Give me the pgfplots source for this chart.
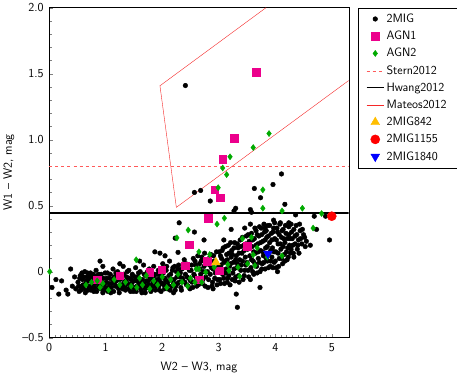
\documentclass[border=0pt]{standalone}
\usepackage{pgfplots}
\pgfplotsset{compat=1.18}
\definecolor{agngreen}{RGB}{0,170,0}
\definecolor{gold}{RGB}{255,190,0}
\definecolor{sternred}{RGB}{255,90,90}
\definecolor{mateosred}{RGB}{245,40,40}
\begin{document}
\begin{tikzpicture}[font=\fontsize{12}{14}\selectfont\sffamily]
\begin{axis}[
    scale only axis,
    width=295pt, height=325pt,
    xmin=0, xmax=5.3, ymin=-0.5, ymax=2.0,
    xtick={0,1,2,3,4,5},
    ytick={-0.5,0,0.5,1,1.5,2},
    yticklabels={--0.5,0,0.5,1.0,1.5,2.0},
    minor x tick num=9, minor y tick num=4,
    tick align=inside, xtick pos=left, ytick pos=left,
    major tick length=4pt, minor tick length=2.5pt,
    /pgf/number format/assume math mode=true,
    tick label style={font=\fontsize{12}{14}\selectfont\sffamily},
    xticklabel style={yshift=-2pt}, yticklabel style={xshift=-2pt},
    xlabel={W2 -- W3, mag}, ylabel={W1 -- W2, mag},
    xlabel style={yshift=-3pt}, ylabel style={yshift=1pt},
    legend cell align=left,
    legend style={at={(1.03,1)}, anchor=north west, draw=black,
        row sep=3pt, inner xsep=8pt, inner ysep=4pt,
        font=\fontsize{12}{14}\selectfont\sffamily},
]
% 2MIG
\addplot[only marks, mark=*, mark size=2.3pt, black] coordinates {
(0.05,-0.12) (0.12,-0.06) (0.17,-0.17) (0.22,-0.07) (0.30,-0.14) (0.33,-0.17) (0.38,0.02) (0.41,-0.11) (0.45,-0.04) (0.47,-0.13)
(0.51,-0.08) (0.53,-0.15) (0.55,-0.03) (0.57,-0.11) (0.59,-0.06) (0.62,-0.13) (0.63,0.00) (0.65,-0.09) (0.67,-0.04) (0.69,-0.14)
(0.71,-0.07) (0.73,-0.01) (0.75,-0.11) (0.77,-0.05) (0.79,-0.15) (0.81,-0.09) (0.83,0.01) (0.85,-0.03) (0.87,-0.12) (0.89,-0.07)
(0.90,0.08) (0.92,-0.02) (0.94,-0.10) (0.96,-0.05) (0.98,-0.14)
(1.01,-0.08) (1.03,-0.01) (1.05,-0.12) (1.07,-0.05) (1.09,-0.16) (1.11,-0.09) (1.13,0.02) (1.15,-0.04) (1.17,-0.11) (1.19,-0.07)
(1.21,0.00) (1.23,-0.13) (1.25,-0.06) (1.27,-0.02) (1.29,-0.10) (1.31,0.04) (1.33,-0.08) (1.35,-0.14) (1.37,-0.04) (1.39,-0.09)
(1.41,0.01) (1.43,-0.12) (1.45,-0.06) (1.47,-0.02) (1.49,-0.15)
(1.51,-0.07) (1.53,0.03) (1.55,-0.11) (1.57,-0.04) (1.59,-0.09) (1.61,0.00) (1.63,-0.14) (1.65,-0.06) (1.67,0.05) (1.69,-0.10)
(1.71,-0.03) (1.73,-0.12) (1.75,-0.07) (1.77,0.02) (1.79,-0.05) (1.81,-0.13) (1.83,-0.09) (1.85,0.04) (1.87,-0.02) (1.89,-0.11)
(1.91,-0.06) (1.93,0.01) (1.95,-0.14) (1.97,-0.08) (1.99,-0.03)
(2.01,0.06) (2.03,-0.10) (2.05,-0.05) (2.07,0.01) (2.09,-0.13) (2.11,-0.07) (2.13,0.08) (2.15,-0.02) (2.17,-0.11) (2.19,0.03)
(2.21,-0.06) (2.23,-0.14) (2.25,0.00) (2.27,-0.09) (2.29,0.05) (2.31,-0.04) (2.33,-0.12) (2.35,0.02) (2.37,-0.07) (2.39,0.09)
(2.41,-0.02) (2.43,-0.10) (2.45,0.04) (2.47,-0.05) (2.49,-0.13)
(2.51,0.01) (2.53,-0.08) (2.55,0.10) (2.57,-0.03) (2.59,0.05) (2.61,-0.11) (2.63,0.12) (2.65,-0.06) (2.67,0.02) (2.69,0.08)
(2.71,-0.09) (2.73,0.00) (2.75,0.14) (2.77,-0.04) (2.79,0.06) (2.81,-0.12) (2.83,0.10) (2.85,-0.02) (2.87,0.03) (2.89,-0.08)
(2.91,0.12) (2.93,-0.05) (2.95,0.07) (2.97,-0.10) (2.99,0.01)
(3.01,0.15) (3.02,-0.06) (3.04,0.05) (3.05,0.10) (3.07,-0.02) (3.08,0.18) (3.10,-0.09) (3.11,0.08) (3.13,0.02) (3.14,0.13)
(3.16,-0.05) (3.17,0.20) (3.19,0.04) (3.20,-0.10) (3.22,0.11) (3.23,0.16) (3.25,-0.01) (3.26,0.07) (3.28,0.22) (3.29,-0.07)
(3.31,0.12) (3.32,0.03) (3.34,0.18) (3.35,-0.03) (3.37,0.09) (3.38,0.24) (3.40,0.05) (3.41,0.14) (3.43,-0.06) (3.44,0.20)
(3.46,0.01) (3.47,0.11) (3.49,0.27)
(3.50,0.07) (3.51,0.17) (3.53,-0.04) (3.54,0.23) (3.55,0.12) (3.57,0.03) (3.58,0.29) (3.59,0.19) (3.61,0.08) (3.62,-0.02)
(3.63,0.25) (3.65,0.14) (3.66,0.31) (3.67,0.04) (3.69,0.21) (3.70,0.10) (3.71,0.27) (3.73,0.00) (3.74,0.16) (3.75,0.33)
(3.77,0.06) (3.78,0.23) (3.79,0.12) (3.81,0.30) (3.82,0.02) (3.83,0.18) (3.85,0.26) (3.86,0.08) (3.87,0.35) (3.89,0.14)
(3.90,0.22) (3.91,0.04) (3.93,0.29) (3.94,0.11) (3.95,0.18) (3.97,0.33) (3.98,0.07) (3.99,0.25)
(4.01,0.15) (4.02,0.03) (4.04,0.30) (4.05,0.21) (4.07,0.10) (4.08,0.36) (4.10,0.17) (4.11,0.26) (4.13,0.06) (4.14,0.32)
(4.16,0.13) (4.17,0.22) (4.19,0.29) (4.21,0.09) (4.22,0.18) (4.24,0.34) (4.26,0.25) (4.27,0.14) (4.29,0.30) (4.31,0.20)
(4.33,0.11) (4.35,0.27) (4.37,0.35) (4.39,0.17) (4.41,0.24) (4.44,0.31) (4.47,0.21) (4.50,0.28) (4.53,0.19)
(0.52,-0.11) (0.54,-0.05) (0.56,-0.14) (0.58,-0.01) (0.60,-0.10) (0.61,-0.04) (0.64,-0.16) (0.66,-0.07) (0.68,-0.01) (0.70,-0.11)
(0.72,-0.04) (0.74,-0.14) (0.76,-0.08) (0.78,-0.02) (0.80,-0.12) (0.82,-0.05) (0.84,-0.15) (0.86,-0.09) (0.88,-0.02) (0.91,-0.13)
(0.93,-0.06) (0.95,-0.16) (0.97,-0.10) (0.99,-0.01)
(1.00,-0.12) (1.02,-0.05) (1.04,-0.15) (1.06,-0.09) (1.08,-0.02) (1.10,-0.12) (1.12,-0.06) (1.14,-0.15) (1.16,-0.08) (1.18,-0.01)
(1.20,-0.11) (1.22,-0.04) (1.24,-0.16) (1.26,-0.10) (1.28,-0.05) (1.30,-0.13) (1.32,-0.02) (1.34,-0.11) (1.36,-0.07) (1.38,0.00)
(1.40,-0.13) (1.42,-0.05) (1.44,-0.15) (1.46,-0.09) (1.48,-0.03)
(1.50,-0.12) (1.52,-0.04) (1.54,-0.15) (1.56,-0.07) (1.58,-0.01) (1.60,-0.12) (1.62,-0.06) (1.64,-0.16) (1.66,-0.09) (1.68,-0.02)
(1.70,-0.13) (1.72,-0.07) (1.74,0.00) (1.76,-0.10) (1.78,-0.04) (1.80,-0.15) (1.82,-0.06) (1.84,-0.11) (1.86,-0.03) (1.88,-0.14)
(1.90,-0.08) (1.92,-0.02) (1.94,-0.11) (1.96,-0.05) (1.98,-0.15)
(2.00,-0.09) (2.02,-0.01) (2.04,-0.13) (2.06,-0.07) (2.08,0.04) (2.10,-0.10) (2.12,-0.03) (2.14,-0.14) (2.16,-0.06) (2.18,0.01)
(2.20,-0.09) (2.22,0.04) (2.24,-0.11) (2.26,-0.04) (2.28,0.02) (2.30,-0.08) (2.32,-0.01) (2.34,-0.14) (2.36,-0.05) (2.38,0.03)
(2.40,-0.08) (2.42,0.06) (2.44,-0.04) (2.46,-0.11) (2.48,0.01)
(2.50,-0.07) (2.52,0.05) (2.54,-0.12) (2.56,-0.02) (2.58,0.08) (2.60,-0.06) (2.62,0.02) (2.64,-0.10) (2.66,0.06) (2.68,-0.02)
(2.70,0.11) (2.72,-0.06) (2.74,0.04) (2.76,-0.11) (2.78,0.09) (2.80,0.00) (2.82,-0.06) (2.84,0.05) (2.86,0.13) (2.88,-0.11)
(2.90,0.02) (2.92,0.08) (2.94,-0.01) (2.96,0.15) (2.98,-0.06)
(3.00,0.04) (3.03,0.12) (3.03,-0.09) (3.06,0.02) (3.06,0.16) (3.09,0.07) (3.09,-0.05) (3.12,0.19) (3.12,-0.01) (3.15,0.09)
(3.15,-0.08) (3.18,0.14) (3.18,-0.03) (3.21,0.06) (3.21,0.22) (3.24,-0.06) (3.24,0.13) (3.27,0.02) (3.27,0.18) (3.30,0.09)
(3.30,-0.04) (3.33,0.21) (3.33,0.06) (3.36,-0.08) (3.36,0.14) (3.39,0.01) (3.39,0.19) (3.42,0.08) (3.42,0.26) (3.45,-0.03)
(3.45,0.16) (3.48,0.05) (3.48,0.21)
(3.52,0.01) (3.52,0.28) (3.55,0.20) (3.56,-0.06) (3.58,0.09) (3.60,0.24) (3.60,0.00) (3.62,0.15) (3.64,0.33) (3.64,0.06)
(3.66,0.20) (3.68,-0.01) (3.68,0.28) (3.70,0.15) (3.72,0.07) (3.72,0.34) (3.74,0.22) (3.76,0.02) (3.76,0.28) (3.78,0.15)
(3.80,0.07) (3.80,0.36) (3.82,0.24) (3.84,0.10) (3.84,0.31) (3.86,0.19) (3.88,0.03) (3.88,0.27) (3.90,0.35) (3.92,0.16)
(3.92,0.08) (3.94,0.24) (3.96,0.03) (3.96,0.30) (3.98,0.15) (3.99,0.37)
(4.00,0.08) (4.02,0.24) (4.03,0.33) (4.05,0.14) (4.06,0.04) (4.07,0.28) (4.09,0.21) (4.09,0.37) (4.11,0.10) (4.12,0.31)
(4.14,0.19) (4.15,0.25) (4.17,0.08) (4.18,0.35) (4.20,0.15) (4.21,0.25) (4.23,0.11) (4.24,0.28) (4.25,0.20) (4.28,0.36)
(4.28,0.17) (4.30,0.25) (4.32,0.14) (4.33,0.32) (4.35,0.21) (4.38,0.28) (4.40,0.20) (4.42,0.14) (4.43,0.36) (4.45,0.25)
(4.48,0.32) (4.52,0.26) (4.55,0.23)
(2.41,1.41) (2.57,0.60) (2.68,0.615) (2.85,0.535) (4.11,0.74) (3.96,0.66) (3.63,0.63) (3.74,0.56) (4.17,0.51)
(3.30,0.48) (3.27,0.46) (3.56,0.47) (3.58,0.45) (2.30,0.37) (2.57,0.30) (2.74,0.24) (1.87,0.15) (1.96,0.14)
(2.05,0.12) (2.28,0.146) (2.23,0.254) (3.09,0.24) (3.22,0.32) (3.46,0.33) (3.56,0.36) (3.82,0.33) (3.97,0.39)
(4.24,0.37) (4.36,0.43) (4.69,0.42) (4.89,0.42) (4.96,0.24) (4.62,0.20) (4.73,0.32) (4.04,0.0) (3.73,-0.12)
(3.31,-0.17) (3.33,-0.27) (1.60,0.08) (1.25,0.06) (0.95,0.04) (2.90,-0.13) (2.20,-0.16) (1.70,-0.16)
};
\addlegendentry{2MIG}
% AGN1
\addplot[only marks, mark=square*, mark size=3.8pt, magenta] coordinates {
(3.66,1.51) (3.27,1.01) (3.07,0.85) (2.93,0.62) (3.02,0.56) (2.82,0.405) (2.48,0.205) (3.51,0.195)
(2.80,0.077) (3.01,0.008) (2.41,0.046) (1.99,0.015) (1.78,-0.005) (2.65,-0.06) (1.25,-0.03) (0.85,-0.06)
};
\addlegendentry{AGN1}
% AGN2
\addplot[only marks, mark=diamond*, mark size=3pt, agngreen] coordinates {
(3.89,1.046) (3.61,0.94) (3.20,0.87) (3.07,0.785) (3.14,0.735) (2.99,0.636) (3.78,0.62) (3.78,0.48)
(4.12,0.46) (4.48,0.48) (4.82,0.44) (3.10,0.405) (2.97,0.36) (2.46,0.315) (2.26,0.256) (4.67,0.33)
(3.42,0.25) (3.58,0.26) (3.68,0.18) (3.86,0.11) (4.12,0.12) (3.61,0.128) (3.51,0.06) (3.64,0.046)
(3.34,0.033) (3.16,0.054) (3.37,-0.036) (3.18,0.008) (2.65,0.15) (2.84,0.13) (1.54,0.09) (2.92,0.033)
(2.65,0.02) (2.77,-0.005) (2.70,-0.08) (0.01,0.0)
(0.65,-0.10) (0.75,-0.08) (0.85,-0.07) (0.90,-0.12) (0.95,-0.09) (1.05,-0.14) (1.15,-0.06) (1.25,-0.10)
(1.35,-0.08) (1.45,-0.11) (1.55,-0.12) (1.60,-0.05) (1.65,-0.10) (1.72,-0.03) (1.78,-0.13) (1.85,-0.07)
(1.92,-0.10) (2.00,-0.04) (2.08,-0.12) (2.15,-0.06) (2.20,-0.10) (2.28,-0.02) (2.35,-0.08) (2.45,-0.11)
(2.50,-0.05) (2.58,-0.08) (2.60,0.02)
};
\addlegendentry{AGN2}
% Stern2012
\addplot[sternred, dashed, thin] coordinates {(0,0.8) (5.3,0.8)};
\addlegendentry{Stern2012}
% Hwang2012
\addplot[black, line width=1.1pt] coordinates {(0,0.444) (5.3,0.444)};
\addlegendentry{Hwang2012}
% Mateos2012
\addplot[mateosred, thin] coordinates {(3.838,2.0) (1.960,1.408) (2.250,0.487) (5.3,1.448)};
\addlegendentry{Mateos2012}
\addplot[only marks, mark=triangle*, mark size=5pt, gold] coordinates {(2.95,0.07)};
\addlegendentry{2MIG842}
\addplot[only marks, mark=*, mark size=4.5pt, red] coordinates {(5.0,0.42)};
\addlegendentry{2MIG1155}
\addplot[only marks, mark=triangle*, mark options={rotate=180}, mark size=5pt, blue] coordinates {(3.87,0.136)};
\addlegendentry{2MIG1840}
\end{axis}
\end{tikzpicture}
\end{document}
